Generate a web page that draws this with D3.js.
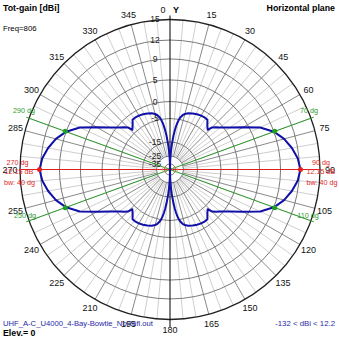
<!DOCTYPE html>
<html><head><meta charset="utf-8">
<script src="https://cdn.jsdelivr.net/npm/d3@7"></script>
<style>body{margin:0;background:#fff}svg{display:block}text{font-family:"Liberation Sans",Arial,sans-serif}</style>
</head><body><svg id="c" width="339" height="339"></svg>
<script>
// ---- data ----
const ringLevels = [15, 12, 9, 5, 0, -5, -15, -25, -35];
const ringLabels = ["15", "12", "9", "5", "0", "-5", "-15", "-25", "-35"];
const scaleDb  = [-45, -35, -25, -15, -5, 0, 5, 9, 12, 15];
const scaleRel = [0, 0.037, 0.09, 0.183, 0.34, 0.453, 0.597, 0.737, 0.863, 1];
const degreeTicks = [0,15,30,45,60,75,90,105,120,135,150,165,180,195,210,225,240,255,270,285,300,315,330,345];
const angles = [0,1,2,3,4,5,6,7,8,9,10,11,13,15,18,22,26,30,34,37,40,42,43.5,45,47.5,50,55,60,65,70,75,80,85,90,
  95,100,105,110,115,120,125,130,132.5,135,136.5,138,140,143,146,150,154,158,162,165,167,169,170,171,172,173,174,175,176,177,178,179,
  180,181,182,183,184,185,186,187,188,189,190,191,193,195,198,202,206,210,214,217,220,222,223.5,225,227.5,230,235,240,245,250,255,260,265,270,
  275,280,285,290,295,300,305,310,312.5,315,316.5,318,320,323,326,330,334,338,342,345,347,349,350,351,352,353,354,355,356,357,358,359];
const gains = [-132,-32,-26,-21,-17.5,-14.5,-12,-10,-8,-6.5,-5.3,-4.5,-3.6,-3.1,-2.6,-2.2,-1.9,-1.7,-1.6,-1.7,-2.9,-3.5,-3.9,-2.5,-1.6,-0.8,1.2,3.8,6.9,9.0,10.2,11.1,11.8,12.15,
  11.8,11.1,10.2,9.0,6.9,3.8,1.2,-0.8,-1.6,-2.5,-3.9,-3.5,-2.9,-1.7,-1.6,-1.7,-1.9,-2.2,-2.6,-3.1,-3.6,-4.5,-5.3,-6.5,-8,-10,-12,-14.5,-17.5,-21,-26,-32,
  -132,-32,-26,-21,-17.5,-14.5,-12,-10,-8,-6.5,-5.3,-4.5,-3.6,-3.1,-2.6,-2.2,-1.9,-1.7,-1.6,-1.7,-2.9,-3.5,-3.9,-2.5,-1.6,-0.8,1.2,3.8,6.9,9.0,10.2,11.1,11.8,12.15,
  11.8,11.1,10.2,9.0,6.9,3.8,1.2,-0.8,-1.6,-2.5,-3.9,-3.5,-2.9,-1.7,-1.6,-1.7,-1.9,-2.2,-2.6,-3.1,-3.6,-4.5,-5.3,-6.5,-8,-10,-12,-14.5,-17.5,-21,-26,-32];
const maxMarkers = [{a:90,g:12.15,label:"90 dg"},{a:270,g:12.15,label:"270 dg"}];
const bwMarkers = [{a:70,g:9.15,label:"70 dg"},{a:110,g:9.15,label:"110 dg"},{a:250,g:9.15,label:"250 dg"},{a:290,g:9.15,label:"290 dg"}];

// ---- drawing ----
const cx = 170, cy = 169.5, R = 150;
const svg = d3.select("#c");
const g = svg.append("g").attr("transform", `translate(${cx},${cy})`);
const r = d3.scaleLinear().domain(scaleDb).range(scaleRel.map(v => v * R)).clamp(true);
const rad = d => d * Math.PI / 180;
const px = (a, rr) => rr * Math.sin(rad(a));
const py = (a, rr) => -rr * Math.cos(rad(a));

// spokes
const spokes = d3.range(0, 360, 5).filter(a => a % 90 !== 0);
g.selectAll("line.sp").data(spokes).join("line")
  .attr("x1", a => px(a, r(-25))).attr("y1", a => py(a, r(-25)))
  .attr("x2", a => px(a, R)).attr("y2", a => py(a, R))
  .attr("stroke", a => a % 15 === 0 ? "#8a8a8a" : "#cfcfcf").attr("stroke-width", 1);

// rings
g.selectAll("circle.ring").data(ringLevels).join("circle")
  .attr("r", d => r(d)).attr("fill", "none")
  .attr("stroke", d => d === 15 ? "#202020" : "#7a7a7a")
  .attr("stroke-width", d => d === 15 ? 1.3 : 1);

// axes
g.append("line").attr("x1", 0).attr("x2", 0).attr("y1", -R - 4).attr("y2", R + 8).attr("stroke", "#000").attr("stroke-width", 1);

// ring labels
g.selectAll("text.rl").data(ringLevels).join("text")
  .attr("x", -15).attr("y", d => -r(d)).attr("dy", "0.35em")
  .attr("text-anchor", "middle").attr("font-size", 8.5).attr("fill", "#222")
  .text((d, i) => ringLabels[i]);

// bw lines
g.selectAll("line.bw").data(bwMarkers).join("line")
  .attr("x1", d => px(d.a + 180, 3)).attr("y1", d => py(d.a + 180, 3))
  .attr("x2", d => px(d.a, R + 3)).attr("y2", d => py(d.a, R + 3))
  .attr("stroke", "#2e9a2e").attr("stroke-width", 1);
// red line
g.append("line").attr("x1", px(270, R)).attr("x2", px(90, R)).attr("y1", 0).attr("y2", 0).attr("stroke", "#e02020").attr("stroke-width", 1);

// center small marks
g.selectAll("circle.cm").data([-5, 5]).join("circle").attr("cx", d => d).attr("cy", 0).attr("r", 2.5)
  .attr("fill", "none").attr("stroke", "#b8a050").attr("stroke-width", 0.8);

// pattern
const pts = angles.map((a, i) => ({a, g: gains[i]}));
const line = d3.lineRadial().angle(d => rad(d.a)).radius(d => r(d.g)).curve(d3.curveLinearClosed);
g.append("path").attr("d", line(pts)).attr("fill", "none").attr("stroke", "#1010a8").attr("stroke-width", 2).attr("stroke-linejoin", "round");

// markers
g.selectAll("circle.mx").data(maxMarkers).join("circle")
  .attr("cx", d => px(d.a, r(d.g))).attr("cy", d => py(d.a, r(d.g))).attr("r", 2.5).attr("fill", "#e02020");
g.selectAll("circle.bwm").data(bwMarkers).join("circle")
  .attr("cx", d => px(d.a, r(d.g))).attr("cy", d => py(d.a, r(d.g))).attr("r", 2.5).attr("fill", "#20a020");

// degree labels
g.selectAll("text.dl").data(degreeTicks).join("text")
  .attr("x", d => d === 0 ? -7 : px(d, 160)).attr("y", d => d === 0 ? -160 : py(d, 160)).attr("dy", "0.35em")
  .attr("text-anchor", "middle").attr("font-size", 9).attr("fill", "#111")
  .text(d => d);
svg.append("text").attr("x", 176).attr("y", 10).attr("dy", "0.35em").attr("text-anchor", "middle")
  .attr("font-size", 9).attr("font-weight", "bold").text("Y");

// annotations
const red = "#e02828", green = "#2e9a2e";
function ann(x, y, t, col, anchor) {
  svg.append("text").attr("x", x).attr("y", y).attr("dy", "0.35em").attr("text-anchor", anchor || "middle")
    .attr("font-size", 7.2).attr("fill", col).text(t);
}
ann(17.5, 162.5, maxMarkers[1].label, red);
ann(19, 171.5, "12.15 dB", red);
ann(19.5, 182.5, "bw: 40 dg", red);
ann(321, 162.5, maxMarkers[0].label, red);
ann(321, 171.5, "12.15 dB", red);
ann(322, 182.5, "bw: 40 dg", red);
ann(24, 110, bwMarkers[3].label, green);
ann(25, 215, bwMarkers[2].label, green);
ann(309, 110, bwMarkers[0].label, green);
ann(308, 215, bwMarkers[1].label, green);

// titles
svg.append("text").attr("x", 3).attr("y", 8).attr("dy", "0.35em").attr("font-size", 8.8).attr("font-weight", "bold").text("Tot-gain [dBi]");
svg.append("text").attr("x", 335).attr("y", 8).attr("dy", "0.35em").attr("text-anchor", "end").attr("font-size", 8.8).attr("font-weight", "bold").text("Horizontal plane");
svg.append("text").attr("x", 3).attr("y", 28).attr("dy", "0.35em").attr("font-size", 7.8).text("Freq=806");
const fn = svg.append("text").attr("x", 3).attr("y", 323).attr("dy", "0.35em").attr("font-size", 7.6).attr("fill", "#2828a8")
  .attr("textLength", 150).attr("lengthAdjust", "spacingAndGlyphs").text("UHF_A-C_U4000_4-Bay-Bowtie_NoRefl.out");
svg.append("text").attr("x", 3).attr("y", 333).attr("dy", "0.35em").attr("font-size", 8.8).attr("font-weight", "bold").text("Elev.= 0");
svg.append("text").attr("x", 335).attr("y", 323).attr("dy", "0.35em").attr("text-anchor", "end").attr("font-size", 7.8).attr("fill", "#2828a8").text("-132 < dBi < 12.2");
</script></body></html>
